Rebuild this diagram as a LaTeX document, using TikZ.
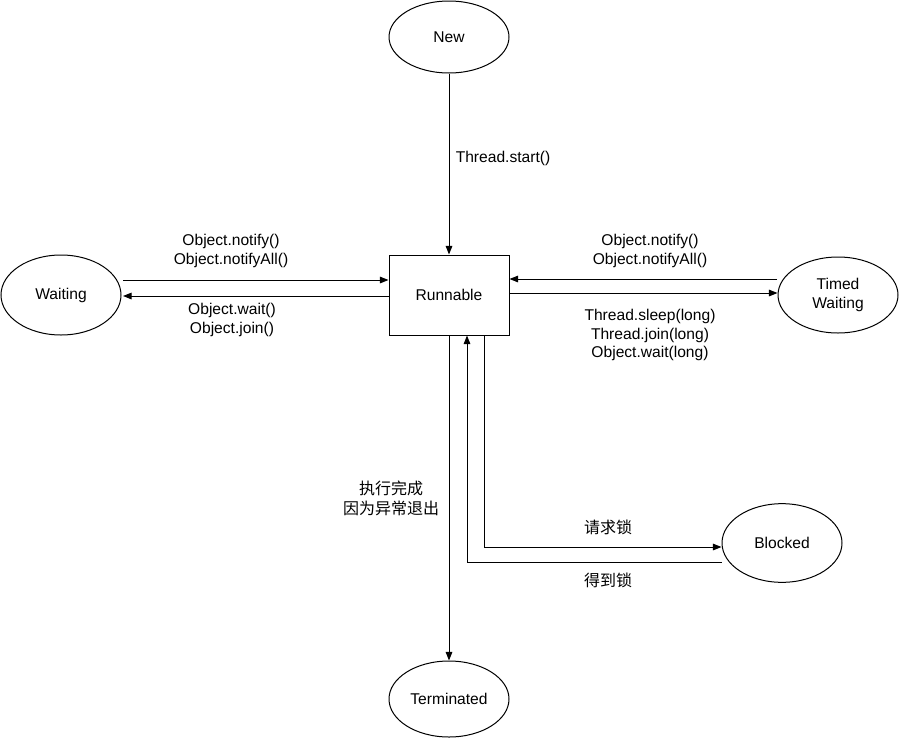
\documentclass[tikz,border=0pt]{standalone}
\usepackage{fontspec}
\setmainfont{Liberation Sans}
\newfontfamily\cjk{Noto Sans CJK SC}
\usetikzlibrary{shapes}
\usetikzlibrary{arrows.meta}
\usepackage{xcolor}

\tikzset{
    state/.style={ellipse, draw=black, line width=0.75pt, inner sep=0pt,
        minimum width=90pt, minimum height=57pt, align=center},
    statebox/.style={rectangle, draw=black, line width=0.75pt, inner sep=0pt,
        minimum width=90pt, minimum height=60pt},
    arr/.style={line width=0.75pt, -{Triangle[length=6.5pt,width=5pt]}},
    lbl/.style={align=center, inner sep=0pt}
}

\begin{document}
\begin{tikzpicture}[x=0.75pt,y=-0.75pt,font=\fontsize{11.7}{13.7}\selectfont]
    \useasboundingbox (0,0) rectangle (899,739);
    % states
    \node[state, minimum height=54pt] (new) at (449,37) {New};
    \node[statebox] (runnable) at (449,295) {Runnable};
    \node[state, minimum height=60pt] (waiting) at (61,295) {Waiting};
    \node[state] (timed) at (838,295) {Timed\\Waiting};
    \node[state, minimum height=59pt] (blocked) at (782,543) {Blocked};
    \node[state] (terminated) at (449,699) {Terminated};

    % free ends
    \coordinate (w1) at (123,280);
    \coordinate (w2) at (123,296);
    \coordinate (t1) at (777,279);
    \coordinate (t2) at (777,293);
    \coordinate (b1) at (484,547);
    \coordinate (b2) at (467,562);

    % connectors
    \draw[arr] (new) -- (runnable);
    \draw[arr] (w1) -- (w1 -| runnable.west);
    \draw[arr] (w2 -| runnable.west) -- (w2);
    \draw[arr] (t1) -- (t1 -| runnable.east);
    \draw[arr] (t2 -| runnable.east) -- (t2 -| timed.west);
    \draw[arr] (runnable) -- (terminated);
    \draw[arr] (b1 |- runnable.south) -- (b1) -- (b1 -| blocked.west);
    \draw[arr] (b2 -| blocked.west) -- (b2) -- (b2 |- runnable.south);

    % labels
    \node[lbl] (startlbl) at (503,158) {Thread.start()};
    \node[lbl] (wnotify) at (231,251) {Object.notify()\\Object.notifyAll()};
    \node[lbl] (wwait) at (232,320) {Object.wait()\\Object.join()};
    \node[lbl] (tnotify) at (650,251) {Object.notify()\\Object.notifyAll()};
    \node[lbl] (tsleep) at (650,335) {Thread.sleep(long)\\Thread.join(long)\\Object.wait(long)};
    \node[lbl, font=\cjk\fontsize{12}{15}\selectfont] (done) at (391,498) {执行完成\\因为异常退出};
    \node[lbl, font=\cjk\fontsize{12}{14}\selectfont] (lock) at (608,527) {请求锁};
    \node[lbl, font=\cjk\fontsize{12}{14}\selectfont] (getlock) at (608,580) {得到锁};
\end{tikzpicture}
\end{document}
